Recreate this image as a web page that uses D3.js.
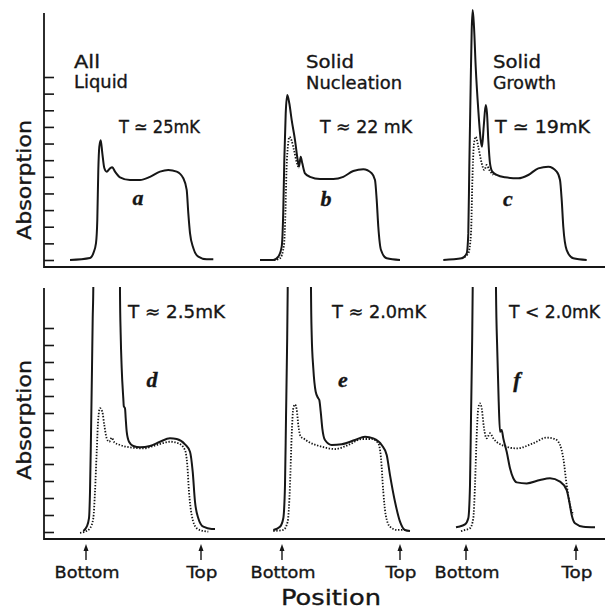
<!DOCTYPE html>
<html><head><meta charset="utf-8">
<script src="https://cdn.jsdelivr.net/npm/d3@7"></script>
<style>body{margin:0;background:#fff}svg{display:block}text{stroke:#161616;stroke-width:0.35px}</style>
</head><body><svg id="chart" width="605" height="609"></svg>
<script>
// ---------------- DATA ----------------
const panelLetters = ["a", "b", "c", "d", "e", "f"];
const headings = [["All", "Liquid"], ["Solid", "Nucleation"], ["Solid", "Growth"]];
const tempLabels = ["T \u2243 25mK", "T \u2248 22 mK", "T \u2243 19mK", "T \u2248 2.5mK", "T \u2248 2.0mK", "T < 2.0mK"];
const yAxisTitle = "Absorption";
const xAxisTitle = "Position";
const topTickValues = d3.range(0, 12);
const bottomTickValues = d3.range(0, 13);
const OFF = 20; // off-scale absorption (trace leaves the chart)

// x: position (arbitrary units from each trace's start), y: absorption (tick units)
const solidA = [[0,0],[20,0.12],[23.3,0.4],[26,1.02],[27.3,2.4],[28.3,5.4],[29.3,6.8],[30.7,7.2],[32.3,6.43],[34.3,5.53],[36.7,5.31],[40,5.51],[42.3,5.57],[45,5.31],[50,4.97],[60,4.81],[70,4.81],[80,5.0],[90,5.31],[98.3,5.41],[106.7,5.31],[113.3,4.91],[116.7,4.21],[118.3,2.82],[120,1.62],[123.3,0.72],[128.3,0.2],[136.7,0.04],[143.3,0.04]];

const solidB = [[1,0],[14.3,0],[19.3,0.2],[22.7,0.8],[24.3,3.0],[25.3,6.0],[26.7,8.8],[28.3,9.92],[30.3,9.42],[32.7,8.41],[36,7.21],[38.7,6.01],[40,5.61],[41.7,6.21],[43.3,5.81],[46,5.21],[51,5.0],[61,4.87],[74.3,4.87],[84.3,5.0],[94.3,5.35],[104.3,5.45],[112.7,5.21],[116,4.81],[117.7,3.61],[119.3,2.0],[122,0.6],[127.7,0.1],[141,0]];
const dottedB = [[3,0],[16,0],[21,0.1],[25,0.9],[26.5,3.0],[27.5,5.4],[29,6.9],[30.5,7.4],[32.5,7.2],[35,6.6],[38,5.8],[40,5.5]];

const solidC = [[0.3,0],[18.7,0.1],[23.7,0.4],[25.3,1.6],[26.3,5.61],[27.7,10.62],[28.7,13.82],[29.7,15.02],[31,14.02],[32.7,11.62],[35.3,9.01],[37.7,7.21],[39,6.81],[40.7,8.01],[42.7,9.31],[44,8.82],[45.3,7.21],[47,5.81],[49.3,5.31],[53.7,5.11],[62,4.97],[75.3,4.91],[85.3,5.11],[95.3,5.51],[105.3,5.61],[113.7,5.31],[117,4.81],[118.7,3.61],[120.3,2.0],[123.7,0.6],[130.3,0.1],[143.7,0]];
const dottedC = [[18.7,0.1],[25.3,0.4],[28,1.6],[29.3,4.61],[31,7.01],[32.7,7.41],[35.3,6.81],[38.7,5.81],[41.3,5.41],[43.7,5.71],[46.3,5.41],[50.3,5.11]];

const solidD = [[3.3,0.06],[6.7,0.31],[9,0.81],[10,2.37],[11,5.71],[12,9.63],[12.7,12.57],[13.3,14.34],[13.8,OFF],[39.5,OFF],[40,14.04],[40.7,11.59],[41.7,9.63],[43.3,7.86],[43.8,7.4],[45,7.28],[45.7,6.69],[46.7,5.9],[49,5.31],[53.3,5.06],[60,4.98],[70,5.06],[80,5.31],[90,5.51],[96.7,5.47],[105,5.16],[110,4.72],[112.7,3.55],[115,1.78],[118.3,0.81],[123.3,0.31],[131.7,0.18],[135,0.18]];
const dottedD = [[0,-0.05],[5,0.02],[10,0.22],[13.3,0.81],[15,2.37],[16.7,4.72],[18.3,6.69],[20,7.28],[22.3,7.08],[24.3,6.29],[26.7,5.51],[29.3,5.31],[31.7,5.55],[34.3,5.28],[40,5.12],[50,4.98],[63.3,4.92],[76.7,5.12],[90,5.31],[98.3,5.22],[105,4.82],[107.3,3.94],[109,2.37],[111.7,1.0],[116.7,0.22],[123.3,0.06],[128.3,0.02]];

const solidE = [[1.3,0.12],[8,0.31],[11.3,0.81],[13,2.76],[14,6.69],[15,10.61],[15.7,14.24],[16.2,OFF],[38.6,OFF],[39,14.24],[39.7,11.59],[41.3,9.63],[43.7,8.25],[46.3,7.86],[47.3,7.76],[48.7,7.08],[50.3,6.1],[53,5.41],[59.7,5.12],[69.7,5.16],[83,5.41],[93,5.61],[101.3,5.51],[109.7,5.12],[114.7,4.53],[118,3.35],[123,1.78],[128,0.61],[133,0.12],[138,0.06]];
const dottedE = [[1.3,0.06],[11.3,0.12],[15.7,0.61],[18,2.76],[19.7,5.71],[21.3,7.28],[23,7.5],[24.7,7.2],[26.3,6.29],[28.7,5.61],[31.3,5.51],[36.3,5.31],[49.7,5.02],[63,4.88],[76.3,5.12],[89.7,5.47],[99.7,5.47],[106.3,5.22],[109,4.34],[111.3,2.37],[113.7,1.0],[118,0.31],[124.7,0.12],[133,0.12]];

const solidF = [[0,0.28],[2.3,0.31],[9,0.45],[12.3,0.81],[14,2.76],[15,6.69],[16,10.61],[16.7,14.34],[17.2,OFF],[39.5,OFF],[40,14.24],[41.3,10.61],[42.7,7.66],[44,5.9],[45.7,6.0],[47.3,5.51],[50.7,4.72],[54,3.75],[57.3,3.16],[60.7,2.92],[70.7,2.86],[84,3.06],[94,3.16],[104,2.96],[110.7,2.47],[113.3,1.78],[115.7,1.0],[119,0.51],[127.3,0.31],[139,0.28]];
const dottedF = [[5,0.05],[9,0.12],[14,0.22],[17.3,0.81],[19,2.76],[20.7,5.71],[22.3,7.28],[24,7.57],[25.7,7.28],[28,6.1],[30.7,5.51],[34,5.81],[37.3,5.51],[47.3,5.08],[60.7,4.92],[77.3,5.22],[90.7,5.55],[99,5.47],[104,5.12],[107.3,4.34],[110.7,2.76],[114,1.59],[117.3,1.0]];

const bottomArrows = [[6, 121], [10, 128], [10, 120]]; // Bottom / Top marks per column (d, e, f units)

// ---------------- LAYOUT ----------------
const svg = d3.select("#chart");
const ink = "#161616";
const rows = [
  {y: d3.scaleLinear().domain([0, 11]).range([260, 77]), ticks: topTickValues, axisTop: 13, axisY: 267, titleY: 180},
  {y: d3.scaleLinear().domain([0, 12]).range([532, 328]), ticks: bottomTickValues, axisTop: 288, axisY: 539, titleY: 420}
];
const panels = [
  {row: 0, x0: 70,  solid: solidA, dotted: null},
  {row: 0, x0: 259, solid: solidB, dotted: dottedB},
  {row: 0, x0: 443, solid: solidC, dotted: dottedC},
  {row: 1, x0: 80,  solid: solidD, dotted: dottedD},
  {row: 1, x0: 272, solid: solidE, dotted: dottedE},
  {row: 1, x0: 456, solid: solidF, dotted: dottedF}
];
const axisX = 44;

svg.append("defs").append("clipPath").attr("id", "clipBottom")
  .append("rect").attr("x", 0).attr("y", 287).attr("width", 605).attr("height", 260);

rows.forEach((r, i) => {
  const g = svg.append("g").attr("transform", `translate(${axisX},0)`);
  g.call(d3.axisLeft(r.y).tickValues(r.ticks).tickSize(-10).tickSizeOuter(0).tickFormat(""));
  g.select(".domain").remove();
  g.selectAll(".tick line").attr("stroke", ink).attr("stroke-width", 1.6);
  svg.append("line").attr("x1", axisX).attr("x2", axisX).attr("y1", r.axisTop).attr("y2", r.axisY + 1)
    .attr("stroke", ink).attr("stroke-width", 1.8);
  svg.append("line").attr("x1", axisX).attr("x2", 605).attr("y1", r.axisY).attr("y2", r.axisY)
    .attr("stroke", ink).attr("stroke-width", 2);
  svg.append("text").attr("transform", `translate(31,${r.titleY}) rotate(-90)`)
    .attr("text-anchor", "middle").attr("font-family", "DejaVu Sans").attr("font-size", 20)
    .attr("textLength", 120).attr("lengthAdjust", "spacingAndGlyphs")
    .attr("fill", ink).text(yAxisTitle);
});

panels.forEach((p, i) => {
  const r = rows[p.row];
  const x = d3.scaleLinear().domain([0, 150]).range([p.x0, p.x0 + 150]);
  const line = d3.line().x(d => x(d[0])).y(d => r.y(d[1])).curve(d3.curveMonotoneX);
  const g = svg.append("g");
  if (p.row === 1) g.attr("clip-path", "url(#clipBottom)");
  if (p.dotted) g.append("path").attr("d", line(p.dotted)).attr("fill", "none")
    .attr("stroke", ink).attr("stroke-width", 1.8).attr("stroke-dasharray", "1.4 1.6");
  g.append("path").attr("d", line(p.solid)).attr("fill", "none")
    .attr("stroke", ink).attr("stroke-width", 2).attr("stroke-linejoin", "round");
  p.x = x;
});

// headings
const headPos = [[74, 68, 88, 26, 54], [306, 68, 89, 48, 96], [493, 68, 89, 48, 63]];
headings.forEach((h, i) => {
  const [hx, y1, y2, w1, w2] = headPos[i];
  svg.append("text").attr("x", hx).attr("y", y1).attr("font-family", "DejaVu Sans").attr("font-size", 17.5)
    .attr("textLength", w1).attr("lengthAdjust", "spacingAndGlyphs").attr("fill", ink).text(h[0]);
  svg.append("text").attr("x", hx).attr("y", y2).attr("font-family", "DejaVu Sans").attr("font-size", 17.5)
    .attr("textLength", w2).attr("lengthAdjust", "spacingAndGlyphs").attr("fill", ink).text(h[1]);
});

// temperature labels
const tPos = [[119, 133, 81], [320, 133, 92], [495, 133, 95], [128, 318, 97], [332, 318, 94], [509, 318, 91]];
tempLabels.forEach((t, i) => {
  const [tx, ty, tw] = tPos[i];
  svg.append("text").attr("x", tx).attr("y", ty).attr("font-family", "DejaVu Sans").attr("font-size", 18)
    .attr("textLength", tw).attr("lengthAdjust", "spacingAndGlyphs").attr("fill", ink).text(t);
});

// panel letters
const lPos = [[138, 205], [326, 206], [508, 206], [152, 387], [343, 387], [517, 387]];
panelLetters.forEach((l, i) => {
  svg.append("text").attr("x", lPos[i][0]).attr("y", lPos[i][1]).attr("text-anchor", "middle")
    .attr("font-family", "Liberation Serif").attr("font-style", "italic").attr("font-weight", "bold")
    .attr("font-size", 22).attr("fill", ink).text(l);
});

// Bottom / Top arrows
bottomArrows.forEach((pair, c) => {
  const x = panels[3 + c].x;
  pair.forEach((v, k) => {
    const ax = x(v);
    svg.append("line").attr("x1", ax).attr("x2", ax).attr("y1", 560).attr("y2", 548)
      .attr("stroke", ink).attr("stroke-width", 1.4);
    svg.append("path").attr("d", `M${ax},544 L${ax - 2.5},551 L${ax + 2.5},551 Z`).attr("fill", ink);
    svg.append("text").attr("x", ax + 1).attr("y", 578).attr("text-anchor", "middle")
      .attr("font-family", "DejaVu Sans").attr("font-size", 16.5)
      .attr("textLength", k === 0 ? 65 : 31).attr("lengthAdjust", "spacingAndGlyphs")
      .attr("fill", ink).text(k === 0 ? "Bottom" : "Top");
  });
});

svg.append("text").attr("x", 331).attr("y", 605).attr("text-anchor", "middle")
  .attr("font-family", "DejaVu Sans").attr("font-size", 21)
  .attr("textLength", 100).attr("lengthAdjust", "spacingAndGlyphs")
  .attr("fill", ink).text(xAxisTitle);
</script></body></html>
